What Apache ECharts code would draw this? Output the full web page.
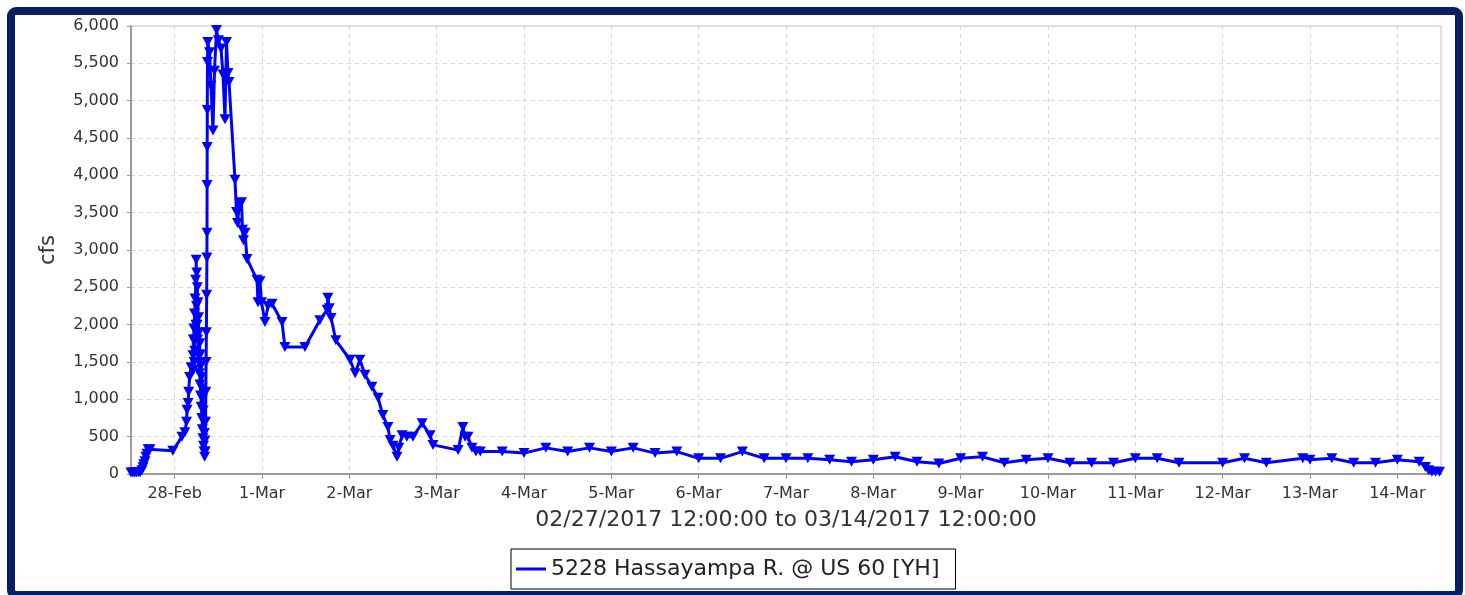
<!DOCTYPE html>
<html>
<head>
<meta charset="utf-8">
<script src="https://cdn.jsdelivr.net/npm/echarts@6/dist/echarts.min.js"></script>
<style>
  html, body { margin: 0; padding: 0; background: #fff; }
  #chart { width: 1465px; height: 595px; }
</style>
</head>
<body>
<div id="chart"></div>
<script>
// ---- DATA ----
const seriesName = '5228 Hassayampa R. @ US 60 [YH]';
const xAxisTitle = '02/27/2017 12:00:00 to 03/14/2017 12:00:00';
const yAxisTitle = 'cfs';
const startTime = new Date(2017, 1, 27, 12, 0, 0).getTime();
const endTime = new Date(2017, 2, 14, 12, 0, 0).getTime();
const dayTickLabels = ['28-Feb', '1-Mar', '2-Mar', '3-Mar', '4-Mar', '5-Mar', '6-Mar', '7-Mar',
  '8-Mar', '9-Mar', '10-Mar', '11-Mar', '12-Mar', '13-Mar', '14-Mar'];
// hours after 02/27/2017 12:00
const hoursFromStart = [
  0, 0.5, 1, 1.5, 2, 2.5, 3, 3.3, 3.5, 3.85, 4.1, 4.4, 4.7, 5.2, 11.5, 14, 14.8, 15.25, 15.4, 15.7, 15.85, 16.1, 16.5,
  17.04, 17.12, 17.2, 17.28, 17.36, 17.44, 17.52, 17.6, 17.68, 17.76, 17.84, 17.92, 18.0, 18.08, 18.16, 18.24, 18.32,
  18.4, 18.48, 18.56, 18.64, 18.72, 18.8, 18.88, 18.96, 19.04, 19.12, 19.2, 19.28, 19.36, 19.44, 19.52, 19.6, 19.68,
  19.76, 19.84, 19.92, 20.0, 20.08, 20.16, 20.24, 20.32, 20.4, 20.48, 20.56, 20.64, 20.72, 20.8, 20.86,
  20.89, 20.91, 20.94, 20.97, 21.02,
  21.1, 21.57, 21.98, 22.53, 22.94, 23.5, 24.04, 24.73, 25.28, 25.83, 26.24, 26.66, 26.93, 28.58, 29.0, 29.27, 29.82,
  30.37, 30.64, 30.91, 31.33, 31.88, 34.63, 34.9, 35.45, 35.86, 36.82, 37.65, 38.75, 41.5, 42.3, 47.8, 51.9, 53.9, 54.1,
  54.5, 55.0, 56.3, 60.2, 61.6, 62.9, 64.3, 66.2, 67.9, 69.2, 70.6, 71.2, 72.0, 73.1, 73.6, 74.5, 75.8, 77.5, 80.0, 82.2,
  83.0, 89.9, 91.2, 91.8, 92.6, 93.7, 94.8, 96,
  102, 108, 114, 120, 126, 132, 138, 144, 150, 156, 162, 168, 174, 180, 186, 192, 198, 204, 210, 216, 222, 228, 234,
  240, 246, 252, 258, 264, 270, 276, 282, 288, 300, 306, 312, 322, 324, 330, 336, 342, 348, 354, 355.7, 356.6, 357.5,
  358.5, 359.6
];
const flowCfs = [
  20, 20, 20, 20, 25, 25, 50, 90, 130, 170, 230, 270, 330, 330, 310, 500, 560, 700, 860, 950, 1100, 1300, 1430,
  1590, 1800, 1400, 1950, 1500, 2150, 1650, 2350, 1800, 2600, 2000, 2870, 2250, 2700, 2000, 2500, 1800,
  2300, 1600, 2100, 1500, 1900, 1350, 1750, 1200, 1600, 1050, 1450, 900, 1300, 750, 1150, 600, 1000,
  480, 850, 380, 700, 300, 550, 230, 450, 300, 700, 1100, 1500, 1900, 2400, 2900,
  3230, 3870, 4380, 4875, 5517,
  5786, 5650, 5200, 4600, 5400, 5946, 5810, 5700, 5350, 4750, 5786, 5370, 5250, 3940, 3510, 3360, 3630,
  3640, 3270, 3130, 3230, 2880, 2600, 2300, 2580, 2300, 2035, 2250, 2280, 2035, 1700, 1700, 2060, 2200, 2360,
  2220, 2090, 1790, 1530, 1350, 1530, 1330, 1170, 1020, 790, 630, 455, 380, 230, 350, 520, 500, 500, 680, 520,
  390, 320, 630, 500, 500, 350, 300, 300,
  300, 280, 350, 300, 350, 300, 350, 280, 300, 210, 210, 300, 210, 210, 210, 190, 165, 190, 230, 165, 140, 210, 230,
  150, 190, 210, 150, 150, 150, 210, 210, 150, 150, 210, 150, 210, 190, 210, 150, 150, 190, 165, 95, 50, 30,
  30, 30
];
// ---- END DATA ----

const FONT = 'DejaVu Sans';
const HOUR = 3600000;
const DAY = 86400000;
const dayTicks = dayTickLabels.map((_, i) => new Date(2017, 1, 28 + i).getTime());
const seriesData = hoursFromStart.map((h, i) => [startTime + h * HOUR, flowCfs[i]]);

const chart = echarts.init(document.getElementById('chart'), null, { renderer: 'canvas' });
const option = {
  animation: false,
  backgroundColor: '#ffffff',
  textStyle: { fontFamily: FONT },
  grid: {
    left: 131, right: 24, top: 26, bottom: 121,
    show: true, borderColor: '#c4c4c4', borderWidth: 1,
    outerBoundsMode: 'none'
  },
  graphic: [{
    type: 'rect',
    shape: { x: 11, y: 11, width: 1448, height: 584, r: 5 },
    style: { fill: 'none', stroke: '#072061', lineWidth: 8 },
    z: 100
  }],
  legend: {
    left: 511, top: 549,
    padding: [9, 16, 9, 5],
    itemWidth: 30, itemHeight: 3,
    icon: 'rect',
    backgroundColor: '#ffffff',
    borderColor: '#000000', borderWidth: 1, borderRadius: 0,
    textStyle: { fontSize: 22, color: '#222', fontFamily: FONT },
    data: [{ name: seriesName, icon: 'rect' }]
  },
  xAxis: {
    type: 'value',
    min: startTime, max: endTime,
    name: xAxisTitle,
    nameLocation: 'middle',
    nameGap: 35,
    nameTextStyle: { fontSize: 22, color: '#333', fontFamily: FONT },
    axisLine: { show: true, lineStyle: { color: '#9a9a9a', width: 2 } },
    axisTick: { show: true, length: 5, customValues: dayTicks, lineStyle: { color: '#9a9a9a' } },
    axisLabel: {
      customValues: dayTicks,
      fontSize: 16, color: '#333', fontFamily: FONT, margin: 12,
      formatter: function (value) {
        const i = Math.round((value - dayTicks[0]) / DAY);
        return dayTickLabels[i] || '';
      }
    },
    splitLine: { show: true, lineStyle: { color: '#d6d6d6', type: [4, 4], width: 1 } }
  },
  yAxis: {
    type: 'value',
    min: 0, max: 6000, interval: 500,
    name: yAxisTitle,
    nameLocation: 'middle',
    nameGap: 72,
    nameTextStyle: { fontSize: 21, color: '#333', fontFamily: FONT },
    axisLine: { show: true, lineStyle: { color: '#9a9a9a', width: 2 } },
    axisTick: { show: true, length: 4, lineStyle: { color: '#9a9a9a' } },
    axisLabel: {
      fontSize: 16, color: '#333', fontFamily: FONT, margin: 12,
      formatter: function (v) { return String(v).replace(/\B(?=(\d{3})+(?!\d))/g, ','); }
    },
    splitLine: { show: true, lineStyle: { color: '#d6d6d6', type: [4, 4], width: 1 } }
  },
  series: [{
    type: 'line',
    name: seriesName,
    data: seriesData,
    symbol: 'triangle',
    symbolRotate: 180,
    symbolSize: [11, 10],
    showAllSymbol: true,
    lineStyle: { width: 3, color: '#0000ff' },
    itemStyle: { color: '#0000ff' },
    emphasis: { disabled: true }
  }]
};
chart.setOption(option);
</script>
</body>
</html>
